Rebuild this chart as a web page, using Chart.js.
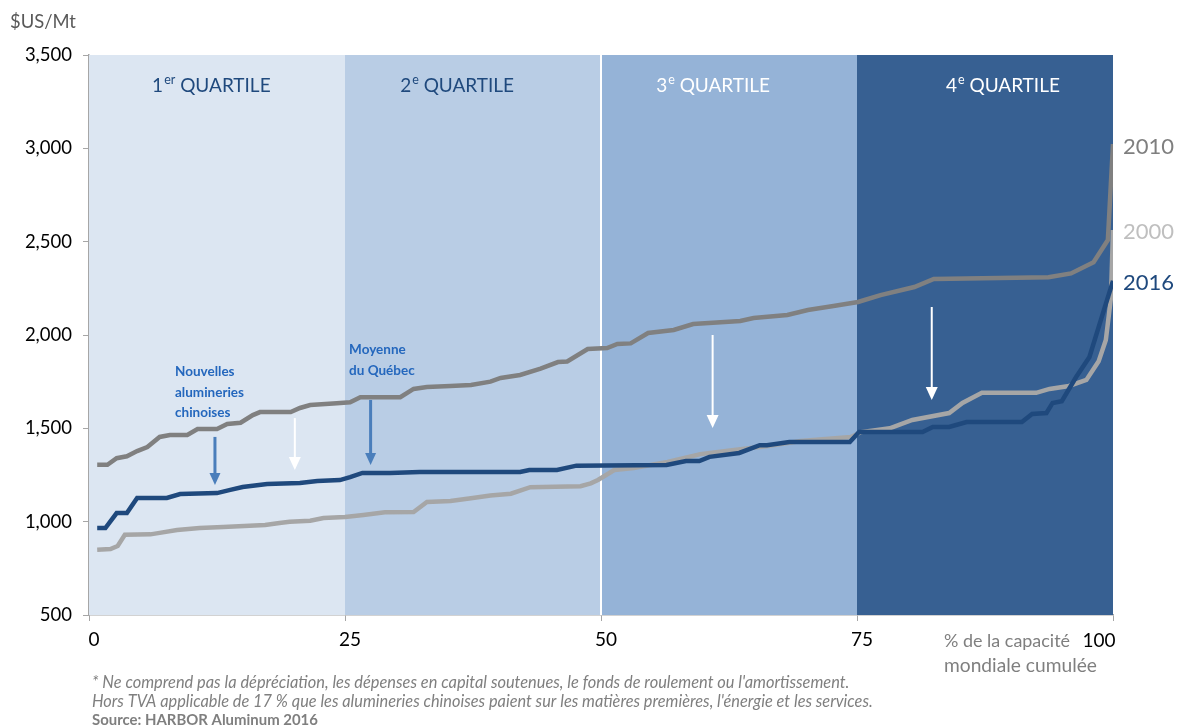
<!DOCTYPE html>
<html><head><meta charset="utf-8">
<script src="https://cdn.jsdelivr.net/npm/chart.js@4/dist/chart.umd.min.js"></script>
<style>html,body{margin:0;padding:0;background:#fff}#wrap{width:1181px;height:727px;position:relative}</style>
</head><body><div id="wrap"><canvas id="c" width="1181" height="727"></canvas></div>
<script>
// ---- DATA ----
const x2010 = [0.8,1.8,2.7,3.7,4.7,5.7,6.9,7.9,9.6,10.6,12.5,13.5,14.8,16.0,16.7,19.7,20.6,21.6,24.2,25.5,26.5,30.4,31.7,33.0,35.3,37.3,39.2,40.2,42.1,44.1,45.8,46.7,48.7,50.6,51.6,52.9,54.6,57.1,59.0,63.6,64.9,68.2,70.2,72.7,75.1,77.3,80.6,82.5,93.7,95.9,98.1,99.5,100];
const y2010 = [1305,1305,1340,1350,1378,1400,1454,1464,1464,1496,1496,1523,1530,1571,1587,1587,1609,1625,1635,1640,1667,1667,1711,1721,1727,1732,1750,1770,1786,1820,1855,1858,1925,1930,1952,1955,2011,2027,2059,2075,2091,2107,2134,2155,2177,2214,2257,2300,2310,2330,2390,2509,3023];

const x2000 = [0.8,2.1,2.8,3.5,6.0,6.9,8.6,10.8,13.1,17.2,18.6,19.6,21.6,22.9,25.0,26.8,28.9,31.7,33.0,35.3,37.3,39.2,41.2,43.1,48.0,49.0,49.7,51.3,53.2,56.5,59.7,63.0,66.3,69.5,74.4,75.4,78.2,80.4,84.0,85.3,87.2,92.5,93.8,95.7,97.4,98.6,99.3,99.8,100];
const y2000 = [850,853,870,930,932,940,955,966,972,982,993,1000,1005,1020,1025,1036,1050,1052,1105,1111,1125,1140,1150,1185,1190,1205,1223,1277,1288,1320,1362,1384,1405,1432,1453,1480,1500,1545,1582,1636,1690,1690,1711,1727,1759,1860,1973,2200,2562];

const x2016 = [0.8,1.6,2.7,3.7,4.7,7.6,8.9,12.5,13.8,15.0,17.4,20.6,22.3,24.5,25.5,26.7,29.4,32.3,42.1,43.0,45.7,47.6,56.4,58.3,59.6,60.6,63.5,65.5,66.2,68.4,74.3,75.2,81.4,82.4,84.0,85.7,91.1,92.1,93.5,94.1,95.0,96.4,97.7,98.9,100];
const y2016 = [966,966,1046,1046,1127,1127,1148,1153,1170,1186,1202,1207,1218,1223,1239,1261,1261,1266,1266,1277,1277,1300,1304,1325,1325,1347,1368,1410,1410,1427,1427,1480,1480,1507,1507,1534,1534,1577,1582,1636,1645,1775,1882,2096,2290];

const quartileEdges = [0,25,50,75,100];
const quartileLabelX = [11.9,35.9,60.9,89.2];
const quartileNum = ['1','2','3','4'];
const quartileSup = ['er','e','e','e'];
const yTickValues = [500,1000,1500,2000,2500,3000,3500];
const xTickValues = [0,25,50,75,100];

// annotation arrows in data units: [x, yStart, yEnd]
const blueArrows = [[12.3,1454,1196],[27.5,1652,1304]];
const whiteArrows = [[20.1,1555,1277],[60.9,2000,1502],[82.3,2150,1652]];
const noteChinese = ['Nouvelles','alumineries','chinoises'];
const noteQuebec = ['Moyenne','du Québec'];

const FONT = 'Lato, "Open Sans", sans-serif';

function pts(xs, ys){ return xs.map((x,i)=>({x:x, y:ys[i]})); }

const bandColors = ['#dce6f2','#b9cde5','#95b3d7','#376092'];

function fitText(ctx, text, x, y, target, style, base){
  ctx.font = style + ' ' + base + 'px ' + FONT;
  const w = ctx.measureText(text).width;
  const size = base * target / w;
  ctx.font = style + ' ' + size.toFixed(2) + 'px ' + FONT;
  ctx.fillText(text, x, y);
}

const bgPlugin = {
  id:'bands',
  beforeDatasetsDraw(chart){
    const {ctx, chartArea:a, scales:{x}} = chart;
    ctx.save();
    for(let i=0;i<4;i++){
      const x0 = x.getPixelForValue(quartileEdges[i]);
      const x1 = x.getPixelForValue(quartileEdges[i+1]);
      ctx.fillStyle = bandColors[i];
      ctx.fillRect(x0, a.top, x1-x0, a.bottom-a.top);
    }
    const xm = x.getPixelForValue(50);
    ctx.strokeStyle = '#ffffff'; ctx.lineWidth = 2;
    ctx.beginPath(); ctx.moveTo(xm, a.top); ctx.lineTo(xm, a.bottom); ctx.stroke();
    ctx.restore();
  }
};

function arrow(ctx, x, y1, y2, color, lw, hw, hl){
  ctx.strokeStyle = color; ctx.fillStyle = color; ctx.lineWidth = lw;
  ctx.beginPath(); ctx.moveTo(x, y1); ctx.lineTo(x, y2 - hl + 1); ctx.stroke();
  ctx.beginPath(); ctx.moveTo(x - hw/2, y2 - hl); ctx.lineTo(x + hw/2, y2 - hl); ctx.lineTo(x, y2); ctx.closePath(); ctx.fill();
}

const textPlugin = {
  id:'texts',
  afterDatasetsDraw(chart){
    const {ctx, scales:{x,y}} = chart;
    ctx.save();
    for(let i=0;i<4;i++){
      const cx = x.getPixelForValue(quartileLabelX[i]);
      const cy = y.getPixelForValue(3334);
      const big = '19px ' + FONT, small = '12.5px ' + FONT;
      ctx.font = big; const w1 = ctx.measureText(quartileNum[i]).width;
      const w3 = ctx.measureText(' QUARTILE').width;
      ctx.font = small; const w2 = ctx.measureText(quartileSup[i]).width;
      let sx = cx - (w1+w2+w3)/2;
      ctx.fillStyle = i<2 ? '#1f497d' : '#ffffff';
      ctx.textBaseline = 'middle'; ctx.textAlign = 'left';
      ctx.font = big; ctx.fillText(quartileNum[i], sx, cy);
      ctx.font = small; ctx.fillText(quartileSup[i], sx+w1+1, cy-6);
      ctx.font = big; ctx.fillText(' QUARTILE', sx+w1+w2+1, cy);
    }
    blueArrows.forEach(([ax,y1,y2])=>arrow(ctx, x.getPixelForValue(ax), y.getPixelForValue(y1), y.getPixelForValue(y2), '#4a7ebb', 3, 11, 12));
    whiteArrows.forEach(([ax,y1,y2])=>arrow(ctx, x.getPixelForValue(ax), y.getPixelForValue(y1), y.getPixelForValue(y2), '#ffffff', 2, 12, 13));
    ctx.fillStyle = '#2467bd'; ctx.font = 'bold 13.5px ' + FONT; ctx.textAlign='left'; ctx.textBaseline='middle';
    noteChinese.forEach((t,i)=>ctx.fillText(t, x.getPixelForValue(8.4), y.getPixelForValue(1802) + i*20.5));
    noteQuebec.forEach((t,i)=>ctx.fillText(t, x.getPixelForValue(25.4), y.getPixelForValue(1920) + i*20.5));
    ctx.restore();
  },
  afterDraw(chart){
    const {ctx, scales:{x,y}} = chart;
    const ds = chart.data.datasets;
    ctx.save();
    ctx.textBaseline='middle'; ctx.textAlign='left';
    const labCol = {'2010':'#7f7f7f','2000':'#bfbfbf','2016':'#1f497d'};
    const labOff = {'2010':3,'2000':2,'2016':2};
    ds.forEach(d=>{
      const last = d.data[d.data.length-1];
      ctx.font = '22px ' + FONT; ctx.fillStyle = labCol[d.label];
      ctx.fillText(d.label, x.getPixelForValue(100)+10, y.getPixelForValue(last.y)+labOff[d.label]);
    });
    ctx.fillStyle = '#595959';
    fitText(ctx, '$US/Mt', 10, 22, 66, '', 17);
    ctx.font = '19px ' + FONT; ctx.fillStyle = '#000000'; ctx.textAlign='center';
    ctx.fillText('100', x.getPixelForValue(100)-14, 641);
    ctx.textAlign='left'; ctx.fillStyle = '#7f7f7f';
    fitText(ctx, '% de la capacité', 944, 641, 126, '', 17);
    fitText(ctx, 'mondiale cumulée', 944, 666, 153, '', 17);
    ctx.fillStyle = '#7f7f7f';
    fitText(ctx, "* Ne comprend pas la dépréciation, les dépenses en capital soutenues, le fonds de roulement ou l'amortissement.", 92, 683, 758, 'italic', 14);
    fitText(ctx, "Hors TVA applicable de 17 % que les alumineries chinoises paient sur les matières premières, l'énergie et les services.", 92, 702, 781, 'italic', 14);
    fitText(ctx, 'Source: HARBOR Aluminum 2016', 92, 720, 226, 'bold', 14);
    ctx.restore();
  }
};

new Chart(document.getElementById('c'), {
  type:'line',
  data:{
    datasets:[
      {label:'2010', data:pts(x2010,y2010), borderColor:'#808080', borderWidth:4.5, pointRadius:0, tension:0, order:3},
      {label:'2000', data:pts(x2000,y2000), borderColor:'#a6a6a6', borderWidth:4.5, pointRadius:0, tension:0, order:2},
      {label:'2016', data:pts(x2016,y2016), borderColor:'#1f497d', borderWidth:4.5, pointRadius:0, tension:0, order:1}
    ]
  },
  options:{
    responsive:false, animation:false, devicePixelRatio:1,
    layout:{padding:{top:55,right:68,bottom:0,left:0}},
    plugins:{legend:{display:false}, tooltip:{enabled:false}},
    scales:{
      x:{type:'linear', min:0, max:100,
         afterBuildTicks(s){ s.ticks = xTickValues.map(v=>({value:v})); },
         afterFit(s){ s.height = 112; },
         ticks:{font:{family:FONT,size:19}, color:'#000', padding:7, maxRotation:0, labelOffset:5,
                callback:v=> v===100 ? '' : String(v)},
         grid:{drawOnChartArea:false, tickLength:6, color:'#a6a6a6'},
         border:{color:'#a6a6a6', width:1.5}},
      y:{type:'linear', min:500, max:3500,
         afterBuildTicks(s){ s.ticks = yTickValues.map(v=>({value:v})); },
         afterFit(s){ s.width = 89; },
         ticks:{font:{family:FONT,size:18.5}, color:'#000', padding:11,
                callback:v=> v.toLocaleString('en-US')},
         grid:{drawOnChartArea:false, tickLength:6, color:'#a6a6a6'},
         border:{color:'#a6a6a6', width:1.5}}
    }
  },
  plugins:[bgPlugin, textPlugin]
});
</script></body></html>
